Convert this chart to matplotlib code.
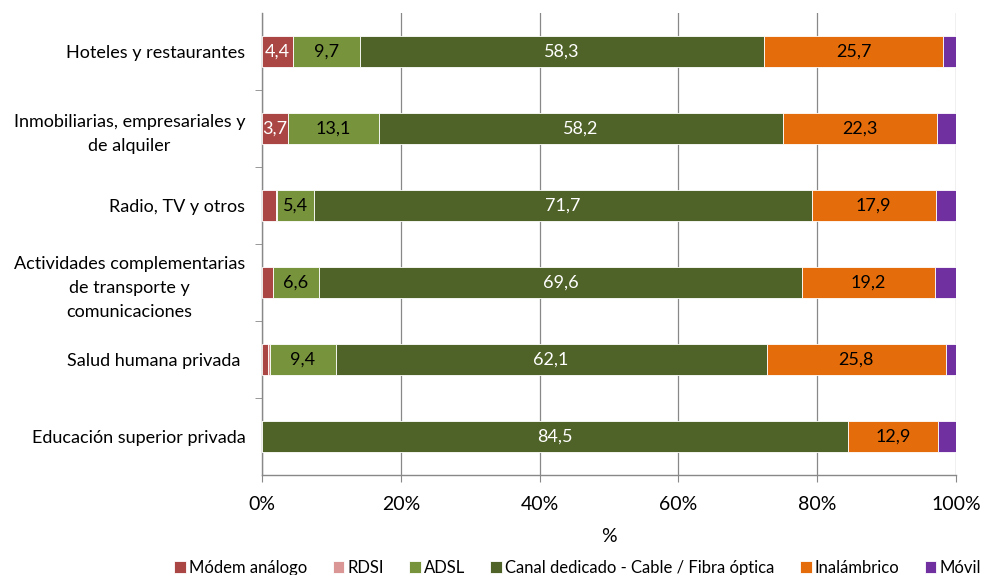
import matplotlib
matplotlib.use("Agg")
import matplotlib.pyplot as plt
import numpy as np

plt.rcParams["font.family"] = ["Lato", "DejaVu Sans"]

categories = [
    "Hoteles y restaurantes",
    "Inmobiliarias, empresariales y\nde alquiler",
    "Radio, TV y otros",
    "Actividades complementarias\nde transporte y\ncomunicaciones",
    "Salud humana privada ",
    "Educación superior privada",
]
series_names = ["Módem análogo", "RDSI", "ADSL",
                "Canal dedicado - Cable / Fibra óptica", "Inalámbrico", "Móvil"]
modem    = [4.4, 3.7, 2.0, 1.6, 0.9, 0.0]
rdsi     = [0.0, 0.0, 0.1, 0.0, 0.3, 0.0]
adsl     = [9.7, 13.1, 5.4, 6.6, 9.4, 0.0]
canal    = [58.3, 58.2, 71.7, 69.6, 62.1, 84.5]
inalamb  = [25.7, 22.3, 17.9, 19.2, 25.8, 12.9]
movil    = [1.9, 2.7, 2.9, 3.0, 1.5, 2.6]
# which segments carry a value label
labeled  = {0: [True, True, False, False, False, False],
            2: [True] * 5 + [False],
            3: [True] * 6,
            4: [True] * 6}

colors = ["#AA4643", "#D99694", "#77933C", "#4F6228", "#E46C0A", "#7030A0"]
text_colors = ["white", "black", "black", "white", "black", "white"]

data = [modem, rdsi, adsl, canal, inalamb, movil]

fig = plt.figure(figsize=(9.81, 5.75), dpi=100)
ax = fig.add_axes([262 / 981, 1 - 475 / 575, (956 - 262) / 981, (475 - 13) / 575])

y = np.arange(len(categories))
left = np.zeros(len(categories))
for i, (vals, name) in enumerate(zip(data, series_names)):
    vals = np.array(vals)
    ax.barh(y, vals, left=left, height=0.41, color=colors[i], label=name,
            edgecolor="white", linewidth=0.6, zorder=3)
    if i in labeled:
        for j, v in enumerate(vals):
            if labeled[i][j]:
                ax.text(left[j] + v / 2, y[j], f"{v:.1f}".replace(".", ","),
                        ha="center", va="center", fontsize=13,
                        color=text_colors[i], zorder=4)
    left += vals

ax.set_xlim(0, 100)
ax.set_ylim(len(categories) - 0.5, -0.5)
ax.set_xticks(np.arange(0, 101, 20))
ax.set_xticklabels([f"{t}%" for t in range(0, 101, 20)], fontsize=14)
ax.set_yticks(y)
ax.set_yticklabels(categories, fontsize=13, multialignment="center", linespacing=1.6)
ax.set_yticks(np.arange(0.5, len(categories) - 0.5, 1), minor=True)
ax.tick_params(axis="y", which="major", length=0, pad=12)
ax.tick_params(axis="y", which="minor", length=5, color="#888888", direction="out")
ax.tick_params(axis="x", length=5, color="#888888", direction="out", pad=10)
ax.grid(axis="x", color="#888888", linewidth=0.9, zorder=0)
for s in ["top", "right"]:
    ax.spines[s].set_visible(False)
for s in ["left", "bottom"]:
    ax.spines[s].set_color("#888888")
    ax.spines[s].set_linewidth(1.0)
ax.set_xlabel("%", fontsize=14, labelpad=11)

handles, labels = ax.get_legend_handles_labels()
fig.legend(handles, labels, loc="lower center", bbox_to_anchor=(0.589, -0.028),
           ncol=6, frameon=False, fontsize=12, handlelength=0.7, handleheight=0.75,
           handletextpad=0.2, columnspacing=1.5)

fig.savefig("out.png", dpi=100)
